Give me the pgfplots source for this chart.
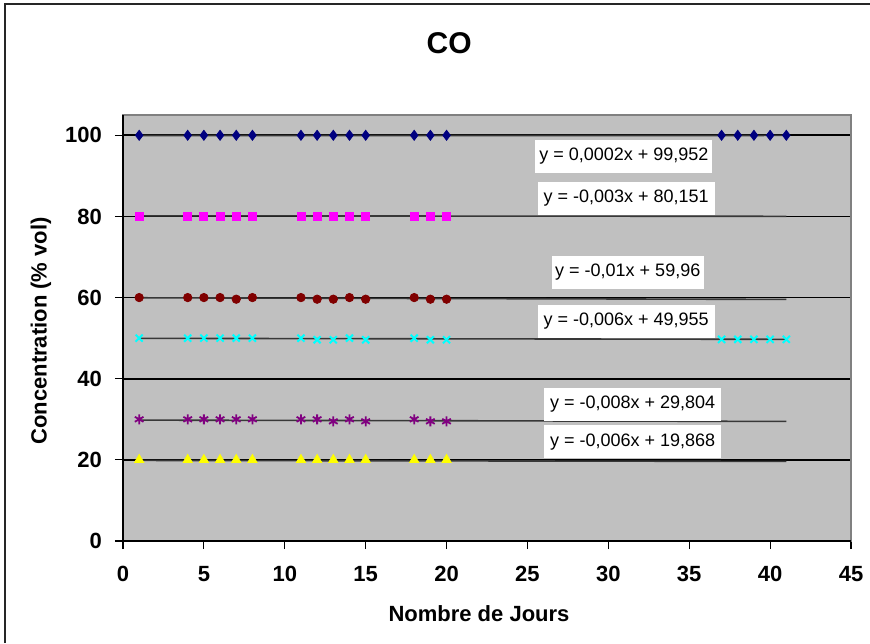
\documentclass[border=0pt]{standalone}
\usepackage{pgfplots}
\pgfplotsset{compat=1.18}
\usepackage{pgfplotstable}
\usepackage{fontspec}
\setmainfont{Liberation Sans}
\definecolor{plotbg}{HTML}{C0C0C0}
\definecolor{cnavy}{HTML}{000080}
\definecolor{cmag}{HTML}{FF00FF}
\definecolor{cdred}{HTML}{800000}
\definecolor{ccyan}{HTML}{00FFFF}
\definecolor{cpurp}{HTML}{800080}
\definecolor{cyell}{HTML}{FFFF00}
\definecolor{trend}{HTML}{383838}

\pgfplotstableread{
x y
1 100
4 100
5 100
6 100
7 100
8 100
11 100
12 100
13 100
14 100
15 100
18 100
19 100
20 100
37 100
38 100
39 100
40 100
41 100
}\sA
\pgfplotstableread{
x y
1 80
4 80
5 80
6 80
7 80
8 80
11 80
12 80
13 80
14 80
15 80
18 80
19 80
20 80
}\sB
\pgfplotstableread{
x y
1 60
4 60
5 60
6 60
7 59.6
8 60
11 60
12 59.6
13 59.6
14 60
15 59.6
18 60
19 59.6
20 59.6
}\sC
\pgfplotstableread{
x y
1 50
4 50
5 50
6 50
7 50
8 50
11 50
12 49.6
13 49.6
14 50
15 49.6
18 50
19 49.6
20 49.6
37 49.7
38 49.7
39 49.7
40 49.7
41 49.7
}\sD
\pgfplotstableread{
x y
1 30
4 30
5 30
6 30
7 30
8 30
11 30
12 30
13 29.5
14 30
15 29.5
18 30
19 29.5
20 29.5
}\sE
\pgfplotstableread{
x y
1 20
4 20
5 20
6 20
7 20
8 20
11 20
12 20
13 20
14 20
15 20
18 20
19 20
20 20
}\sF

\begin{document}
\begin{tikzpicture}
\path[use as bounding box] (-61.5pt,-51pt) rectangle (373.5pt,270.5pt);
\draw[line width=0.6pt, black!85] (-59pt,-51pt) -- (-59pt,268.5pt) -- (373.5pt,268.5pt);
\begin{axis}[
  scale only axis,
  width=364pt, height=213pt,
  xmin=0, xmax=45, ymin=0, ymax=105,
  xtick={0,5,...,45}, ytick={0,20,...,100},
  tick pos=left, tick align=outside,
  major tick length=4pt,
  tick style={black, line width=0.6pt},
  axis background/.style={fill=plotbg},
  axis line style={draw=gray, line width=0.6pt},
  ymajorgrids,
  grid style={black, line width=0.8pt},
  /pgf/number format/assume math mode=true,
  ticklabel style={font=\fontsize{11}{13}\selectfont\bfseries},
  xticklabel style={yshift=-5pt},
  yticklabel style={xshift=-3pt},
  xlabel={Nombre de Jours},
  ylabel={Concentration (\% vol)},
  label style={font=\fontsize{11}{13}\selectfont\bfseries},
  xlabel style={at={(axis description cs:0.489,-0.1714)}, anchor=center},
  ylabel style={at={(axis description cs:-0.1126,0.493)}, anchor=center},
  clip=false,
]
% trendlines
\addplot[trend, line width=0.8pt, no marks] coordinates {(1,99.952) (41,99.960)};
\addplot[trend, line width=0.8pt, no marks] coordinates {(1,80.148) (41,80.028)};
\addplot[trend, line width=0.8pt, no marks] coordinates {(1,59.95) (41,59.55)};
\addplot[trend, line width=0.8pt, no marks] coordinates {(1,49.949) (41,49.709)};
\addplot[trend, line width=0.8pt, no marks] coordinates {(1,29.796) (41,29.476)};
\addplot[trend, line width=0.8pt, no marks] coordinates {(1,19.862) (41,19.622)};
% data
\addplot[only marks, mark=diamond*, mark size=2.5pt, cnavy, mark options={fill=cnavy, draw=cnavy}] table {\sA};
\addplot[only marks, mark=square*, mark size=2pt, cmag, mark options={fill=cmag, draw=cmag}] table {\sB};
\addplot[only marks, mark=*, mark size=2.1pt, cdred, mark options={fill=cdred, draw=cdred}] table {\sC};
\addplot[only marks, mark=x, mark size=2.5pt, ccyan, mark options={line width=1pt}] table {\sD};
\addplot[only marks, mark=asterisk, mark size=2.5pt, cpurp, mark options={line width=0.9pt}] table {\sE};
\addplot[only marks, mark=triangle*, mark size=2.7pt, cyell, mark options={fill=cyell, draw=cyell}] table {\sF};
% equation labels
\begin{scope}[every node/.style={fill=white, inner sep=0pt, minimum width=88.5pt, minimum height=16.5pt, font=\fontsize{9}{11}\selectfont}]
\node at (axis cs:30.96,94.8) {y = 0,0002x + 99,952};
\node at (axis cs:31.1,84.4) {y = -0,003x + 80,151};
\node[minimum width=76pt] at (axis cs:31.2,66.2) {y = -0,01x + 59,96};
\node at (axis cs:31.1,54.1) {y = -0,006x + 49,955};
\node at (axis cs:31.5,33.7) {y = -0,008x + 29,804};
\node at (axis cs:31.5,24.5) {y = -0,006x + 19,868};
\end{scope}
\draw[black, line width=0.8pt] (rel axis cs:0,1) -- (rel axis cs:0,0) -- (rel axis cs:1,0);
\node[font=\fontsize{15}{17}\selectfont\bfseries] at (rel axis cs:0.448,1.169) {CO};
\end{axis}
\end{tikzpicture}
\end{document}
